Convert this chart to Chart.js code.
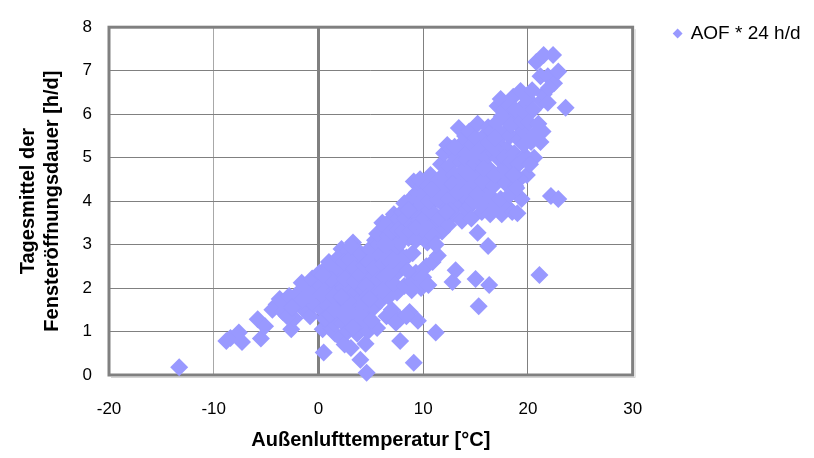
<!DOCTYPE html>
<html>
<head>
<meta charset="utf-8">
<title>Fensteröffnungsdauer</title>
<script src="https://cdn.jsdelivr.net/npm/chart.js@4/dist/chart.umd.min.js"></script>
<style>
  html, body { margin: 0; padding: 0; background: #ffffff; }
  #wrap { width: 814px; height: 458px; }
</style>
</head>
<body>
<div id="wrap"><canvas id="chart" width="814" height="458"></canvas></div>
<script>
// Labels and axis ticks
const seriesLabel = 'AOF * 24 h/d';
const xTitle = 'Außenlufttemperatur [°C]';
const yTitle = ['Tagesmittel der', 'Fensteröffnungsdauer [h/d]'];
const xTicks = [-20, -10, 0, 10, 20, 30];
const yTicks = [0, 1, 2, 3, 4, 5, 6, 7, 8];

// Daily values: [outdoor temperature °C, mean window opening duration h/d]
const coldDays = [
  [-13.3,0.18],[-8.8,0.78],[-8.4,0.85],[-7.6,0.98],[-7.3,0.76],[-5.8,1.28],[-5.5,0.84],[-5.1,1.12],
  [-4.4,1.50],[-4.0,1.62],[-3.7,1.75],[-3.4,1.45],[-3.1,1.60],[-2.8,1.82],[-2.6,1.05],[-2.3,1.30],
  [-2.1,1.62],[-1.9,1.90],[-1.6,2.12],[-1.4,1.50],[-1.2,1.78],[-1.0,2.00],[-0.8,1.35],[-0.6,2.22],
  [-0.4,1.62],[-0.2,1.95],[-3.0,1.35],[-1.7,1.68],[-2.5,1.55],[-0.9,1.85]
];
const coolDays = [
  [0.1,2.35],[0.3,1.50],[0.4,1.05],[0.5,0.52],[0.6,1.80],[0.7,2.10],[0.8,1.25],[0.9,2.50],
  [1.0,1.65],[1.1,1.95],[1.2,1.10],[1.3,2.30],[1.4,1.45],[1.5,2.05],[1.6,0.95],[1.7,1.75],
  [1.8,2.45],[1.9,1.30],[2.0,2.15],[2.1,0.85],[2.0,1.55],[2.2,2.90],[0.2,2.05],[0.8,1.60],
  [1.2,2.20],[1.5,1.20],[0.6,1.30],[1.8,1.85],[0.3,1.85],[1.0,2.60],[1.4,1.80],[1.1,1.40],
  [0.5,2.30],[1.9,2.70],[1.6,1.50],
  [2.3,1.20],[2.4,2.00],[2.5,0.70],[2.6,1.70],[2.7,2.40],[2.8,1.00],[2.9,2.85],[3.0,1.45],
  [3.1,0.62],[3.2,2.20],[3.3,3.05],[3.4,1.85],[3.5,1.25],[3.6,2.60],[3.7,0.95],[3.8,2.00],
  [3.9,1.55],[4.0,0.35],[4.1,2.35],[4.2,1.15],[2.4,2.60],[2.6,1.35],[2.8,1.95],[3.0,2.65],
  [3.2,1.60],[3.4,2.45],[3.6,1.90],[3.8,2.85],[4.0,1.75],[4.2,2.75],[2.5,2.20],[2.9,1.70],
  [3.3,1.10],[3.5,2.15],[3.9,2.30],[2.2,1.80],[3.1,2.95],[3.7,1.40],[4.3,1.95],[2.7,1.50]
];
const mildDays = [
  [4.4,2.50],[4.5,0.72],[4.6,0.05],[4.6,1.35],[4.7,1.00],[4.8,2.15],[4.9,2.90],[5.0,1.55],
  [5.1,2.60],[5.2,1.85],[5.3,1.55],[5.4,3.10],[5.5,2.30],[5.6,1.08],[5.7,2.70],[5.8,2.05],
  [5.9,3.30],[6.0,2.45],[4.4,1.60],[4.8,2.60],[5.0,2.20],[5.2,2.85],[5.5,1.95],[5.8,3.00],
  [6.0,2.80],[4.5,2.05],[4.7,1.80],[5.3,2.45],[5.7,2.20],[6.1,3.50],[5.9,1.70],[4.3,1.30],
  [5.1,1.25],[5.6,3.25],[4.9,1.75],
  [6.2,2.55],[6.3,3.40],[6.4,2.00],[6.5,2.95],[6.6,3.20],[6.7,1.80],[6.8,3.55],[6.9,2.60],
  [7.0,3.00],[7.1,1.35],[7.2,3.70],[7.3,2.30],[7.4,3.25],[7.5,1.90],[7.6,3.60],[7.7,2.80],
  [7.8,1.30],[7.8,0.78],[7.9,3.40],[8.0,2.50],[6.3,2.25],[6.6,2.70],[6.9,3.30],[7.2,2.10],
  [7.5,2.95],[7.8,3.05],[6.1,1.95],[6.5,1.35],[7.0,1.50],[7.4,1.20],[8.0,3.75],[6.8,2.35],
  [7.6,3.35],[6.4,3.00],[7.1,2.65],
  [8.1,3.30],[8.2,2.05],[8.3,3.60],[8.4,2.70],[8.5,3.90],[8.6,3.15],[8.7,1.45],[8.8,4.05],
  [8.9,2.15],[9.0,3.45],[9.1,0.28],[9.1,4.45],[9.2,3.75],[9.3,2.35],[9.4,4.20],[9.5,1.25],
  [9.6,3.55],[9.7,2.30],[9.8,3.90],[9.9,4.35],[10.0,3.25],[8.2,3.95],[8.5,2.40],[8.8,3.30],
  [9.0,2.80],[9.3,3.10],[9.6,4.05],[9.9,3.65],[8.4,1.35],[9.8,2.00],[8.9,1.95],[10.0,2.25],
  [8.6,3.80],[9.4,3.40],[9.7,4.50]
];
const warmDays = [
  [10.1,3.60],[10.2,4.10],[10.3,2.50],[10.4,3.05],[10.5,4.35],[10.5,2.07],[10.6,3.80],[10.7,4.60],
  [10.8,3.45],[10.9,2.60],[11.0,4.00],[11.1,3.70],[11.2,0.98],[11.3,4.45],[11.4,2.75],[11.5,3.55],
  [11.6,4.20],[11.7,4.85],[11.8,3.30],[11.9,4.60],[12.0,3.90],[10.2,3.35],[10.6,4.00],[11.0,3.20],
  [11.4,4.05],[11.8,4.30],[12.0,5.10],[10.8,4.25],[11.2,3.00],[11.6,3.60],
  [12.2,4.50],[12.3,5.29],[12.4,3.45],[12.5,4.80],[12.6,4.15],[12.7,5.20],[12.8,2.14],[12.9,3.70],
  [13.0,4.60],[13.1,2.41],[13.2,5.00],[13.3,3.95],[13.4,5.68],[13.5,4.35],[13.6,4.90],[13.7,3.55],
  [13.8,5.35],[13.9,4.10],[14.0,4.75],[14.1,3.80],[12.4,4.05],[12.8,4.40],[13.2,4.20],[13.6,5.20],
  [14.0,5.50],[12.6,3.80],[13.0,5.25],[13.8,4.45],[12.2,3.75],[14.1,4.95],
  [14.2,5.10],[14.3,4.25],[14.4,5.60],[14.5,3.90],[14.6,4.70],[14.7,5.30],[14.8,4.00],[14.9,4.85],
  [15.0,2.21],[15.0,5.45],[15.1,4.40],[15.2,5.78],[15.2,3.27],[15.3,1.58],[15.4,4.60],[15.5,5.20],
  [15.6,3.75],[15.7,4.90],[15.8,5.50],[15.9,4.20],[16.0,5.00],[16.1,4.50],[16.2,2.97],[16.3,2.07],
  [16.3,5.35],[14.4,4.50],[14.8,5.05],[15.2,4.15],[15.6,4.45],[16.0,3.85],[14.6,3.60],[15.4,3.95],
  [15.8,4.75],[16.2,5.70],[14.2,4.65]
];
const hotDays = [
  [16.4,3.70],[16.5,4.70],[16.6,5.60],[16.7,4.35],[16.8,5.10],[16.9,3.90],[17.0,5.80],[17.1,6.19],
  [17.2,4.60],[17.3,5.30],[17.4,6.35],[17.5,3.70],[17.6,4.90],[17.7,5.55],[17.8,6.10],[17.9,4.40],
  [18.0,5.20],[18.1,3.85],[16.5,4.10],[16.8,4.60],[17.1,5.00],[17.4,4.05],[17.7,4.75],[18.0,5.85],
  [16.6,5.25],[17.2,5.60],[17.8,5.00],[16.9,5.45],[17.5,5.95],[18.1,4.60],
  [18.2,6.20],[18.3,5.50],[18.4,4.90],[18.5,3.75],[18.6,6.40],[18.7,5.10],[18.8,4.35],[18.9,5.80],
  [19.0,3.72],[19.0,6.00],[19.1,4.85],[19.2,5.40],[19.3,6.53],[19.4,4.05],[19.5,5.60],[19.6,6.20],
  [19.7,5.05],[19.8,5.00],[19.9,4.60],[20.0,6.35],[18.4,5.75],[18.8,6.10],[19.2,4.50],[19.6,5.30],
  [20.0,5.50],[18.6,4.60],[19.4,5.85],[18.3,4.15],[19.8,6.00],[18.9,4.30],
  [20.1,5.80],[20.3,5.36],[20.5,6.10],[20.6,5.00],[20.8,7.20],[21.0,5.78],[21.1,2.30],[21.2,5.36],
  [21.2,6.87],[21.3,6.30],[21.5,7.36],[21.5,6.46],[21.9,6.87],[21.9,6.26],[22.2,4.12],[22.4,7.36],
  [22.5,6.71],[22.9,6.98],[22.9,4.05],[23.6,6.15],[20.2,4.85],[20.4,6.55],[20.7,5.55],[21.4,5.60],
  [22.0,6.60]
];

const FONT = '"Liberation Sans", Arial, sans-serif';
const LEGEND_LEFT = 668.5;   // left edge of the legend box
const PLOT_RIGHT = 631;      // right edge of the plot area

const points = [...coldDays, ...coolDays, ...mildDays, ...warmDays, ...hotDays]
  .map(([t, h]) => ({ x: t, y: h }));

// Grey frame around the plot area with a soft shadow, drawn below the markers
const plotFrame = {
  id: 'plotFrame',
  beforeDatasetsDraw(chart) {
    const { ctx, chartArea: a } = chart;
    ctx.save();
    ctx.strokeStyle = '#d4d4d4';
    ctx.lineWidth = 1;
    ctx.beginPath();
    ctx.moveTo(a.right + 2.5, a.top + 2);
    ctx.lineTo(a.right + 2.5, a.bottom + 2.5);
    ctx.lineTo(a.left + 2, a.bottom + 2.5);
    ctx.stroke();
    ctx.strokeStyle = '#808080';
    ctx.lineWidth = 3;
    ctx.strokeRect(a.left, a.top, a.right - a.left, a.bottom - a.top);
    ctx.restore();
  }
};

const chart = new Chart(document.getElementById('chart'), {
  type: 'scatter',
  data: {
    datasets: [{
      label: seriesLabel,
      data: points,
      backgroundColor: '#9999ff',
      borderWidth: 0,
      pointStyle: 'rectRot',
      pointRadius: 9,
      pointHoverRadius: 9,
      clip: false
    }]
  },
  options: {
    responsive: false,
    animation: false,
    events: [],
    layout: { padding: { top: 20, left: 0, bottom: 0, right: 0 } },
    plugins: {
      tooltip: { enabled: false },
      legend: {
        position: 'right',
        align: 'start',
        labels: {
          usePointStyle: true,
          pointStyle: 'rectRot',
          boxWidth: 7,
          boxHeight: 7,
          padding: 4,
          color: '#000000',
          font: { family: FONT, size: 19 }
        }
      }
    },
    scales: {
      x: {
        type: 'linear',
        position: 'bottom',
        min: xTicks[0],
        max: xTicks[xTicks.length - 1],
        afterBuildTicks: s => { s.ticks = xTicks.map(v => ({ value: v })); },
        afterFit: s => { s.height = 83; },
        border: { display: false },
        grid: {
          drawTicks: false,
          color: c => (c.tick && c.tick.value === -10) ? '#a8a8a8' : '#808080',
          lineWidth: c => (c.tick && c.tick.value === 0) ? 3 : 1
        },
        ticks: { padding: 24, color: '#000000', font: { family: FONT, size: 17 } },
        title: {
          display: true,
          text: xTitle,
          color: '#000000',
          font: { family: FONT, size: 20, weight: 'bold' },
          padding: { top: 0, bottom: 6 }
        }
      },
      y: {
        type: 'linear',
        position: 'left',
        min: yTicks[0],
        max: yTicks[yTicks.length - 1],
        afterBuildTicks: s => { s.ticks = yTicks.map(v => ({ value: v })); },
        afterFit: s => { s.width = 109; },
        border: { display: false },
        grid: { drawTicks: false, color: '#808080', lineWidth: 1 },
        ticks: { padding: 17, color: '#000000', font: { family: FONT, size: 17 } },
        title: {
          display: true,
          text: yTitle,
          color: '#000000',
          font: { family: FONT, size: 20, weight: 'bold' },
          padding: { top: 16, bottom: 0 }
        }
      },
      // empty spacer between the plot area and the legend
      spacer: {
        type: 'linear',
        position: 'right',
        display: true,
        grid: { display: false },
        border: { display: false },
        ticks: { display: false },
        afterFit: s => { s.width = LEGEND_LEFT - PLOT_RIGHT; }
      }
    }
  },
  plugins: [plotFrame]
});

// Pin the legend's left edge once its width is known
chart.options.layout.padding.right = Math.max(0, 814 - LEGEND_LEFT - chart.legend.width);
chart.update();
</script>
</body>
</html>
